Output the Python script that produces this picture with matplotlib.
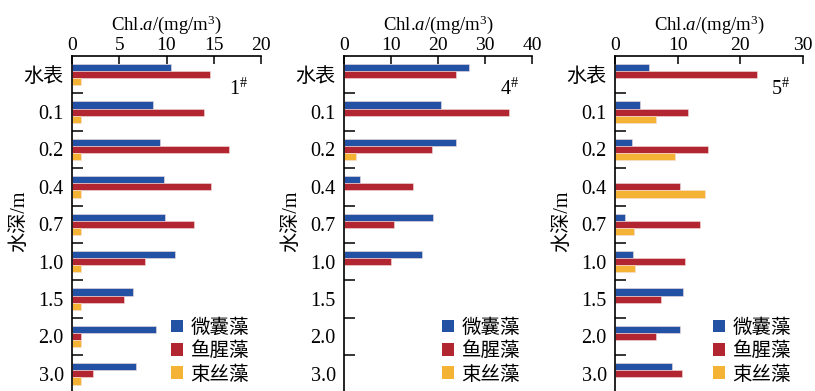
import numpy as np
import matplotlib
matplotlib.use('Agg')
import matplotlib.pyplot as plt
from matplotlib.patches import Patch

plt.rcParams['font.family'] = ['Liberation Serif', 'Noto Sans CJK SC']
plt.rcParams['mathtext.fontset'] = 'custom'
plt.rcParams['mathtext.rm'] = 'Liberation Serif'
plt.rcParams['mathtext.it'] = 'Liberation Serif:italic'

depths = ['水表', '0.1', '0.2', '0.4', '0.7', '1.0', '1.5', '2.0', '3.0']
species = ['微囊藻', '鱼腥藻', '束丝藻']
colors = ['#2352A4', '#B22631', '#F5B335']

# Chl.a per depth, one list per species, for each station
st1_micro = [10.5, 8.6, 9.3, 9.7, 9.8, 10.9, 6.45, 8.85, 6.8]
st1_anab = [14.6, 14.0, 16.6, 14.7, 12.9, 7.7, 5.5, 1.0, 2.2]
st1_aphan = [1.0, 1.0, 1.0, 1.0, 1.0, 1.0, 1.0, 1.0, 1.0]

st4_micro = [26.5, 20.7, 23.9, 3.5, 19.0, 16.6, 0, 0, 0]
st4_anab = [23.9, 35.2, 18.7, 14.6, 10.7, 10.0, 0, 0, 0]
st4_aphan = [0, 0, 2.5, 0, 0, 0, 0, 0, 0]

st5_micro = [5.5, 4.0, 2.7, 0, 1.6, 2.9, 10.8, 10.35, 9.1]
st5_anab = [22.6, 11.6, 14.9, 10.35, 13.6, 11.1, 7.4, 6.6, 10.7]
st5_aphan = [0, 6.5, 9.6, 14.3, 3.1, 3.2, 0, 0, 0]

stations = [
    ('1', [st1_micro, st1_anab, st1_aphan], 20, 5),
    ('4', [st4_micro, st4_anab, st4_aphan], 40, 10),
    ('5', [st5_micro, st5_anab, st5_aphan], 30, 10),
]

W, H = 815, 391
fig = plt.figure(figsize=(W / 100, H / 100), dpi=100)

lefts = [72, 344, 615]
widths = [189, 188, 188]
top = 56
slot = 37.4
ax_h = slot * len(depths)

bar_h = 0.19
y = np.arange(len(depths))

for (name, vals, xmax, step), x0, w in zip(stations, lefts, widths):
    ax = fig.add_axes([x0 / W, 1 - (top + ax_h) / H, w / W, ax_h / H])
    for k, (v, c) in enumerate(zip(vals, colors)):
        ax.barh(y + (k - 1) * bar_h, v, height=bar_h, color=c,
                edgecolor='#f4dede', linewidth=0.4)
    ax.set_xlim(0, xmax)
    ax.set_ylim(len(depths) - 0.5, -0.5)
    ax.xaxis.tick_top()
    ax.xaxis.set_label_position('top')
    ax.set_xticks(np.arange(0, xmax + 1, step))
    ax.set_xlabel(r'Chl.$\mathit{a}$/(mg/m$^3$)', fontsize=13.5, labelpad=5)
    ax.set_yticks(y)
    ax.set_yticklabels(depths)
    ax.set_yticks(np.arange(0.5, len(depths) - 1, 1), minor=True)
    ax.tick_params(axis='y', which='major', length=0, pad=6, labelsize=14.5)
    ax.tick_params(axis='y', which='minor', length=8, width=1.1,
                   direction='in')
    ax.tick_params(axis='x', length=6, width=1.1, direction='in',
                   pad=1.5, labelsize=14)
    for s in ['right', 'bottom']:
        ax.spines[s].set_visible(False)
    for s in ['left', 'top']:
        ax.spines[s].set_linewidth(1.2)
    ax.set_ylabel('水深/m', fontsize=14.5)
    ax.yaxis.set_label_coords(-0.278, 0.51)
    ax.yaxis.label.set_verticalalignment('center')
    ax.text(0.93, 0.9, name + r'$^{\#}$', transform=ax.transAxes,
            fontsize=14.5, ha='right', va='center')
    handles = [Patch(facecolor=c, label=s) for c, s in zip(colors, species)]
    ax.legend(handles=handles, loc='lower right', bbox_to_anchor=(1.03, -0.025),
              frameon=False, fontsize=14, handlelength=0.6, handleheight=0.6,
              handletextpad=0.4, labelspacing=0.25)

fig.savefig('out.png', dpi=100)
